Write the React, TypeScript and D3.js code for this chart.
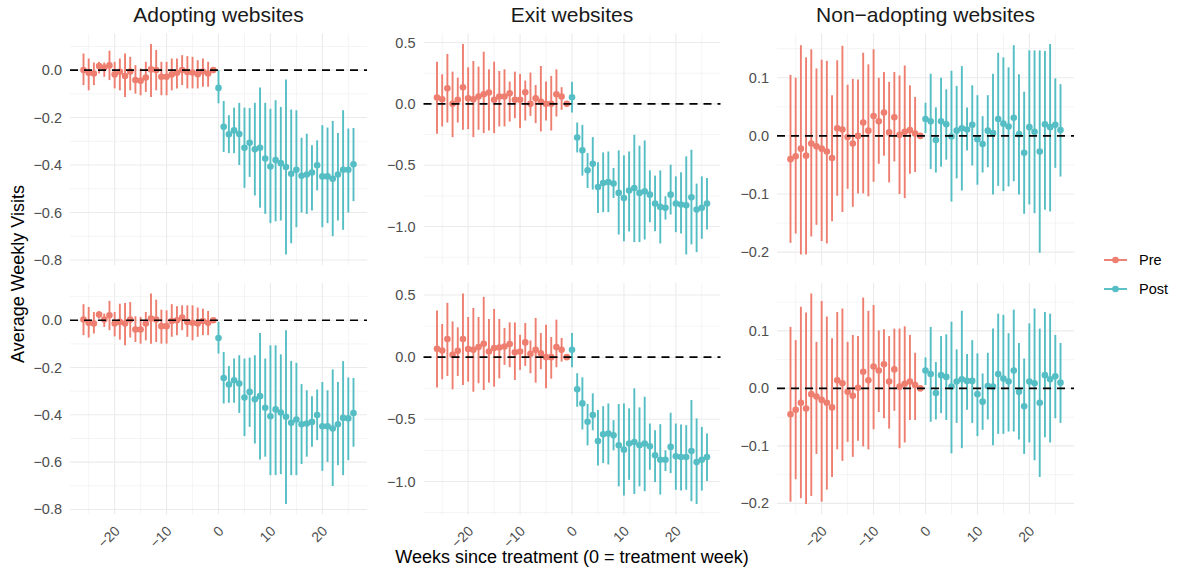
import React from "react";
import * as d3 from "d3";

// weeks relative to treatment
const weeks = [
  -26, -25, -24, -23, -22, -21, -20, -19, -18, -17, -16, -15, -14, -13, -12, -11, -10, -9, -8, -7, -6, -5, -4, -3, -2, -1,
  0, 1, 2, 3, 4, 5, 6, 7, 8, 9, 10, 11, 12, 13, 14, 15, 16, 17, 18, 19, 20, 21, 22, 23, 24, 25, 26,
];

const facetTitles = ["Adopting websites", "Exit websites", "Non\u2212adopting websites"];

// ---- Adopting, top row
const adoptEstA = [
  0.0, -0.011, -0.014, 0.017, 0.011, 0.02, -0.018, -0.007, -0.025, -0.006, -0.042, -0.045, -0.031, 0.003, 0.0, -0.028, -0.028, -0.018, -0.011, 0.0, -0.008, -0.01, -0.017, -0.006, -0.014, 0.0,
  -0.075, -0.239, -0.27, -0.254, -0.269, -0.327, -0.306, -0.334, -0.327, -0.373, -0.406, -0.379, -0.392, -0.408, -0.437, -0.42, -0.445, -0.44, -0.432, -0.401, -0.448, -0.448, -0.458, -0.44, -0.42, -0.42, -0.397,
];
const adoptLoA = [
  -0.063, -0.085, -0.063, -0.014, -0.028, -0.042, -0.077, -0.085, -0.113, -0.085, -0.099, -0.106, -0.092, -0.113, -0.085, -0.106, -0.106, -0.085, -0.077, -0.063, -0.077, -0.077, -0.077, -0.07, -0.07, 0.0,
  -0.14, -0.345, -0.35, -0.35, -0.4, -0.496, -0.45, -0.528, -0.58, -0.606, -0.645, -0.637, -0.634, -0.777, -0.73, -0.662, -0.6, -0.606, -0.592, -0.507, -0.662, -0.645, -0.7, -0.634, -0.673, -0.6, -0.552,
];
const adoptHiA = [
  0.07, 0.049, 0.032, 0.035, 0.032, 0.082, 0.035, 0.049, 0.07, 0.056, 0.021, 0.007, 0.035, 0.11, 0.085, 0.035, 0.035, 0.049, 0.049, 0.063, 0.059, 0.056, 0.042, 0.049, 0.035, 0.0,
  0.0, -0.13, -0.19, -0.158, -0.138, -0.158, -0.16, -0.138, -0.073, -0.138, -0.163, -0.127, -0.155, -0.04, -0.166, -0.169, -0.285, -0.268, -0.317, -0.296, -0.232, -0.242, -0.214, -0.265, -0.169, -0.246, -0.244,
];

// ---- Exit, top row
const exitEstA = [
  0.051, 0.038, 0.127, 0.0, 0.033, 0.136, 0.046, 0.038, 0.06, 0.079, 0.092, 0.033, 0.06, 0.06, 0.087, 0.033, 0.033, 0.095, 0.0, 0.046, 0.019, 0.0, 0.0, 0.079, 0.06, 0.0,
  0.054, -0.274, -0.379, -0.542, -0.488, -0.678, -0.645, -0.637, -0.65, -0.726, -0.767, -0.707, -0.686, -0.726, -0.713, -0.74, -0.813, -0.84, -0.848, -0.74, -0.813, -0.821, -0.827, -0.762, -0.862, -0.848, -0.813,
];
const exitLoA = [
  -0.244, -0.184, -0.152, -0.271, -0.152, -0.211, -0.206, -0.271, -0.211, -0.238, -0.217, -0.238, -0.184, -0.184, -0.144, -0.117, -0.198, -0.136, -0.098, -0.157, -0.225, -0.136, -0.217, -0.103, -0.049, 0.0,
  -0.07, -0.396, -0.585, -0.686, -0.699, -0.889, -0.883, -0.883, -0.767, -1.065, -1.12, -1.04, -1.127, -1.127, -1.106, -0.965, -1.038, -1.138, -0.943, -0.902, -1.046, -1.057, -1.228, -1.146, -1.209, -1.1, -1.024,
];
const exitHiA = [
  0.344, 0.241, 0.407, 0.263, 0.214, 0.488, 0.298, 0.35, 0.304, 0.425, 0.282, 0.344, 0.268, 0.282, 0.182, 0.263, 0.244, 0.19, 0.255, 0.154, 0.309, 0.182, 0.228, 0.282, 0.136, 0.0,
  0.18, -0.152, -0.171, -0.401, -0.271, -0.477, -0.396, -0.388, -0.523, -0.379, -0.42, -0.388, -0.252, -0.341, -0.298, -0.542, -0.585, -0.542, -0.753, -0.496, -0.591, -0.558, -0.428, -0.374, -0.65, -0.591, -0.604,
];

// ---- Non-adopting, top row
const nonEstA = [
  -0.04, -0.035, -0.022, -0.034, -0.013, -0.018, -0.022, -0.027, -0.038, 0.013, 0.011, -0.002, -0.013, 0.0, 0.023, 0.009, 0.034, 0.025, 0.04, 0.006, 0.032, 0.002, 0.007, 0.01, 0.004, 0.0,
  0.029, 0.025, -0.007, 0.025, 0.02, -0.001, 0.009, 0.013, 0.011, 0.019, -0.006, -0.014, 0.009, 0.005, 0.029, 0.021, 0.016, 0.031, 0.003, -0.029, 0.015, 0.007, -0.027, 0.02, 0.015, 0.019, 0.01,
];
const nonLoA = [
  -0.184, -0.168, -0.204, -0.204, -0.173, -0.153, -0.181, -0.185, -0.147, -0.103, -0.131, -0.091, -0.122, -0.099, -0.099, -0.104, -0.079, -0.048, -0.034, -0.08, -0.044, -0.1, -0.107, -0.065, -0.062, 0.0,
  0.005, -0.057, -0.063, -0.053, -0.041, -0.113, -0.073, -0.094, -0.025, -0.051, -0.084, -0.063, -0.054, -0.101, -0.086, -0.095, -0.087, -0.078, -0.101, -0.134, -0.118, -0.133, -0.201, -0.127, -0.13, -0.055, -0.07,
];
const nonHiA = [
  0.105, 0.1, 0.156, 0.135, 0.149, 0.116, 0.131, 0.129, 0.07, 0.13, 0.155, 0.088, 0.098, 0.097, 0.143, 0.123, 0.149, 0.1, 0.11, 0.093, 0.11, 0.104, 0.121, 0.087, 0.067, 0.0,
  0.057, 0.107, 0.049, 0.1, 0.08, 0.112, 0.086, 0.12, 0.049, 0.087, 0.07, 0.034, 0.07, 0.107, 0.143, 0.135, 0.118, 0.156, 0.106, 0.076, 0.147, 0.147, 0.147, 0.146, 0.158, 0.099, 0.089,
];

// ---- Adopting, bottom row
const adoptEstB = [
  0.003, -0.011, -0.014, 0.024, 0.003, 0.021, -0.014, -0.007, -0.014, 0.003, -0.039, -0.039, -0.014, 0.007, 0.003, -0.025, -0.025, -0.003, 0.0, 0.011, -0.007, -0.011, -0.014, -0.003, -0.011, 0.0,
  -0.075, -0.244, -0.272, -0.254, -0.268, -0.327, -0.303, -0.334, -0.321, -0.37, -0.406, -0.377, -0.39, -0.408, -0.434, -0.42, -0.44, -0.437, -0.43, -0.401, -0.448, -0.448, -0.458, -0.44, -0.413, -0.415, -0.392,
];
const adoptLoB = [
  -0.063, -0.073, -0.056, 0.007, -0.028, -0.042, -0.068, -0.082, -0.106, -0.073, -0.092, -0.099, -0.085, -0.099, -0.092, -0.099, -0.099, -0.07, -0.063, -0.042, -0.07, -0.085, -0.07, -0.063, -0.063, 0.0,
  -0.141, -0.352, -0.349, -0.349, -0.392, -0.49, -0.451, -0.521, -0.589, -0.577, -0.655, -0.655, -0.651, -0.777, -0.655, -0.655, -0.608, -0.577, -0.535, -0.507, -0.637, -0.599, -0.701, -0.613, -0.655, -0.592, -0.535,
];
const adoptHiB = [
  0.068, 0.056, 0.035, 0.039, 0.028, 0.082, 0.035, 0.07, 0.073, 0.077, 0.017, 0.014, 0.035, 0.113, 0.087, 0.045, 0.042, 0.068, 0.059, 0.063, 0.063, 0.063, 0.054, 0.049, 0.039, 0.0,
  -0.007, -0.134, -0.194, -0.162, -0.148, -0.162, -0.158, -0.148, -0.054, -0.162, -0.106, -0.106, -0.144, -0.042, -0.172, -0.18, -0.27, -0.296, -0.321, -0.293, -0.261, -0.296, -0.208, -0.261, -0.173, -0.242, -0.244,
];

// ---- Exit, bottom row
const exitEstB = [
  0.067, 0.054, 0.146, 0.019, 0.051, 0.146, 0.065, 0.059, 0.081, 0.108, 0.046, 0.073, 0.078, 0.086, 0.105, 0.04, 0.046, 0.119, 0.027, 0.059, 0.032, 0.0, 0.0, 0.081, 0.059, 0.0,
  0.059, -0.259, -0.372, -0.52, -0.466, -0.674, -0.62, -0.615, -0.628, -0.709, -0.744, -0.695, -0.682, -0.709, -0.695, -0.717, -0.79, -0.825, -0.825, -0.722, -0.798, -0.803, -0.803, -0.755, -0.844, -0.825, -0.803,
];
const exitLoB = [
  -0.243, -0.178, -0.151, -0.259, -0.151, -0.224, -0.197, -0.278, -0.21, -0.264, -0.205, -0.237, -0.17, -0.062, -0.081, -0.183, -0.102, -0.07, -0.129, -0.205, -0.097, -0.251, -0.173, -0.081, -0.035, 0.0,
  -0.081, -0.399, -0.582, -0.709, -0.588, -0.871, -0.852, -0.863, -0.749, -1.04, -1.113, -0.987, -1.1, -1.04, -1.078, -0.906, -1.005, -1.105, -0.916, -0.933, -1.067, -1.073, -1.067, -1.159, -1.181, -1.073, -0.997,
];
const exitHiB = [
  0.375, 0.267, 0.437, 0.288, 0.24, 0.512, 0.323, 0.396, 0.323, 0.485, 0.307, 0.388, 0.307, 0.235, 0.28, 0.28, 0.18, 0.275, 0.135, 0.315, 0.194, 0.261, 0.162, 0.302, 0.154, 0.0,
  0.194, -0.129, -0.162, -0.377, -0.291, -0.426, -0.394, -0.372, -0.507, -0.377, -0.372, -0.412, -0.251, -0.404, -0.318, -0.534, -0.588, -0.539, -0.749, -0.447, -0.534, -0.542, -0.547, -0.345, -0.493, -0.561, -0.615,
];

// ---- Non-adopting, bottom row
const nonEstB = [
  -0.045, -0.037, -0.025, -0.035, -0.01, -0.014, -0.02, -0.025, -0.033, 0.014, 0.009, -0.006, -0.013, 0.001, 0.029, 0.014, 0.038, 0.031, 0.042, 0.012, 0.033, 0.003, 0.008, 0.012, 0.006, 0.0,
  0.031, 0.025, -0.008, 0.023, 0.02, 0.003, 0.012, 0.016, 0.013, 0.013, -0.01, -0.023, 0.004, 0.003, 0.025, 0.017, 0.012, 0.031, -0.006, -0.031, 0.012, 0.009, -0.025, 0.023, 0.016, 0.021, 0.01,
];
const nonLoB = [
  -0.197, -0.158, -0.191, -0.201, -0.187, -0.114, -0.197, -0.176, -0.154, -0.106, -0.126, -0.093, -0.119, -0.091, -0.101, -0.106, -0.071, -0.041, -0.052, -0.07, -0.039, -0.104, -0.094, -0.055, -0.055, 0.0,
  0.006, -0.058, -0.054, -0.043, -0.055, -0.113, -0.06, -0.104, -0.037, -0.06, -0.083, -0.072, -0.054, -0.099, -0.079, -0.079, -0.075, -0.075, -0.089, -0.114, -0.094, -0.125, -0.154, -0.085, -0.094, -0.052, -0.06,
];
const nonHiB = [
  0.107, 0.084, 0.142, 0.132, 0.165, 0.081, 0.152, 0.125, 0.087, 0.133, 0.139, 0.081, 0.093, 0.091, 0.158, 0.135, 0.145, 0.101, 0.103, 0.091, 0.104, 0.104, 0.108, 0.093, 0.062, 0.0,
  0.054, 0.107, 0.046, 0.091, 0.094, 0.116, 0.068, 0.135, 0.06, 0.084, 0.061, 0.026, 0.062, 0.104, 0.13, 0.128, 0.096, 0.137, 0.079, 0.052, 0.113, 0.139, 0.104, 0.133, 0.13, 0.093, 0.079,
];

const xMajor = [-20, -10, 0, 10, 20];
const xMinor = [-25, -15, -5, 5, 15, 25];
const legendItems = ["Pre", "Post"];

const RED = "#EE7E6F";
const TEAL = "#55BEC4";
const GRID = "#EBEBEB";
const FONT = "'Liberation Sans', Arial, Helvetica, sans-serif";

const colLeft = [70, 423.5, 777];
const rowTop = [33.5, 283];
const panelW = 297;
const panelH = 231.5;

const panels = [
  { row: 0, col: 0, est: adoptEstA, lo: adoptLoA, hi: adoptHiA },
  { row: 0, col: 1, est: exitEstA, lo: exitLoA, hi: exitHiA },
  { row: 0, col: 2, est: nonEstA, lo: nonLoA, hi: nonHiA },
  { row: 1, col: 0, est: adoptEstB, lo: adoptLoB, hi: adoptHiB },
  { row: 1, col: 1, est: exitEstB, lo: exitLoB, hi: exitHiB },
  { row: 1, col: 2, est: nonEstB, lo: nonLoB, hi: nonHiB },
];

const fmt = d3.format(".1f");
const fmtX = d3.format("d");

function Panel({ p }: { p: (typeof panels)[number] }) {
  const x0 = colLeft[p.col];
  const y0 = rowTop[p.row];
  const x = d3.scaleLinear().domain([-28.6, 28.6]).range([x0, x0 + panelW]);
  const mn = d3.min(p.lo) as number;
  const mx = d3.max(p.hi) as number;
  const pad = (mx - mn) * 0.05;
  const y = d3.scaleLinear().domain([mn - pad, mx + pad]).range([y0 + panelH, y0]);
  const major = y.ticks(5);
  const step = major[1] - major[0];
  const minor: number[] = [];
  for (let v = major[0] - step / 2; v <= mx + pad; v += step) {
    if (v >= mn - pad) minor.push(v);
  }
  const pts = weeks.map((w, i) => ({ w, est: p.est[i], lo: p.lo[i], hi: p.hi[i] }));
  const [d0, d1] = x.domain();
  return (
    <g>
      {minor.map((v) => (
        <line key={"ym" + v} x1={x0} x2={x0 + panelW} y1={y(v)} y2={y(v)} stroke={GRID} strokeWidth={0.55} />
      ))}
      {xMinor.map((v) => (
        <line key={"xm" + v} x1={x(v)} x2={x(v)} y1={y0} y2={y0 + panelH} stroke={GRID} strokeWidth={0.55} />
      ))}
      {major.map((v) => (
        <line key={"yM" + v} x1={x0} x2={x0 + panelW} y1={y(v)} y2={y(v)} stroke={GRID} strokeWidth={1.07} />
      ))}
      {xMajor.map((v) => (
        <line key={"xM" + v} x1={x(v)} x2={x(v)} y1={y0} y2={y0 + panelH} stroke={GRID} strokeWidth={1.07} />
      ))}
      {major.map((v) => (
        <text key={"yt" + v} x={x0 - 8} y={y(v)} dy="0.35em" textAnchor="end" fontSize={14.5} fill="#4D4D4D">
          {fmt(v)}
        </text>
      ))}
      {pts.map((d) => (
        <line key={"e" + d.w} x1={x(d.w)} x2={x(d.w)} y1={y(d.lo)} y2={y(d.hi)} stroke={d.w < 0 ? RED : TEAL} strokeWidth={1.9} />
      ))}
      {pts.map((d) => (
        <circle key={"p" + d.w} cx={x(d.w)} cy={y(d.est)} r={3.3} fill={d.w < 0 ? RED : TEAL} />
      ))}
      <line x1={x(d0)} x2={x(d1)} y1={y(0)} y2={y(0)} stroke="#000" strokeWidth={1.6} strokeDasharray="8,6" />
      {p.row === 0 && (
        <text x={x0 + panelW / 2} y={22} textAnchor="middle" fontSize={21} fill="#1A1A1A">
          {facetTitles[p.col]}
        </text>
      )}
      {p.row === 1 &&
        xMajor.map((v) => (
          <text
            key={"xt" + v}
            transform={`translate(${x(v) + 6},${y0 + panelH + 17.5}) rotate(-45)`}
            textAnchor="end"
            fontSize={14}
            fill="#4D4D4D"
          >
            {fmtX(v)}
          </text>
        ))}
    </g>
  );
}

export default function App() {
  return (
    <svg
      width={1177}
      height={574}
      style={{ position: "absolute", left: 0, top: 0, background: "#fff", fontFamily: FONT }}
    >
      <rect width={1177} height={574} fill="#fff" />
      {panels.map((p, i) => (
        <Panel key={i} p={p} />
      ))}
      <text transform="translate(24,274) rotate(-90)" textAnchor="middle" fontSize={18} fill="#000">
        Average Weekly Visits
      </text>
      <text x={572} y={563} textAnchor="middle" fontSize={18} fill="#000">
        Weeks since treatment (0 = treatment week)
      </text>
      {legendItems.map((lab, i) => {
        const cy = 260 + i * 29;
        const c = i === 0 ? RED : TEAL;
        return (
          <g key={lab}>
            <line x1={1104} x2={1127} y1={cy} y2={cy} stroke={c} strokeWidth={1.9} />
            <circle cx={1115.5} cy={cy} r={3.3} fill={c} />
            <text x={1139} y={cy} dy="0.35em" fontSize={14.5} fill="#000">
              {lab}
            </text>
          </g>
        );
      })}
    </svg>
  );
}
